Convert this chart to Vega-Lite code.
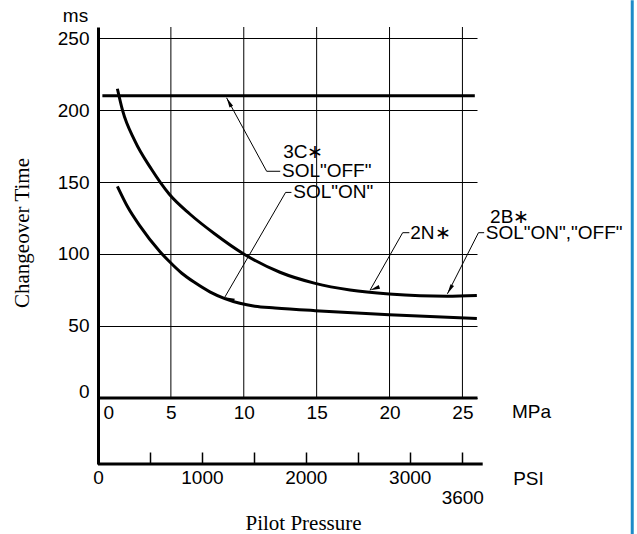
{
  "$schema": "https://vega.github.io/schema/vega-lite/v6.json",
  "width": 379,
  "height": 437,
  "autosize": {"type": "none"},
  "padding": {"left": 98, "top": 27, "right": 160, "bottom": 70},
  "background": "white",
  "config": {
    "view": {"stroke": null},
    "font": "Liberation Sans",
    "axis": {
      "labelFont": "Liberation Sans",
      "labelFontSize": 19,
      "labelColor": "black",
      "titleFont": "Liberation Sans",
      "titleFontSize": 19,
      "titleFontWeight": "normal",
      "titleColor": "black",
      "domainColor": "black",
      "tickColor": "black",
      "gridColor": "black",
      "labelOverlap": false
    },
    "title": {"font": "Liberation Serif", "fontSize": 21, "fontWeight": "normal", "color": "black"}
  },
  "title": {"text": "Pilot Pressure", "orient": "bottom", "anchor": "middle", "dx": 16, "offset": -23},
  "datasets": {
    "grid": [{"p": 5}, {"p": 10}, {"p": 15}, {"p": 20}, {"p": 25}],
    "curves": [
      {"s": "3C OFF", "p": 0.3, "t": 210},
      {"s": "3C OFF", "p": 25.85, "t": 210},
      {"s": "2N 2B", "p": 1.33, "t": 214.9},
      {"s": "2N 2B", "p": 1.68, "t": 200},
      {"s": "2N 2B", "p": 2.52, "t": 178.8},
      {"s": "2N 2B", "p": 3.67, "t": 158.9},
      {"s": "2N 2B", "p": 4.88, "t": 141.7},
      {"s": "2N 2B", "p": 6.3, "t": 127.8},
      {"s": "2N 2B", "p": 8.02, "t": 113.9},
      {"s": "2N 2B", "p": 10.0, "t": 100},
      {"s": "2N 2B", "p": 12.48, "t": 87.3},
      {"s": "2N 2B", "p": 14.9, "t": 79.6},
      {"s": "2N 2B", "p": 17.29, "t": 75.0},
      {"s": "2N 2B", "p": 19.97, "t": 72.2},
      {"s": "2N 2B", "p": 22.1, "t": 71.0},
      {"s": "2N 2B", "p": 23.93, "t": 70.7},
      {"s": "2N 2B", "p": 25.99, "t": 71.2},
      {"s": "3C ON", "p": 1.33, "t": 147.0},
      {"s": "3C ON", "p": 2.04, "t": 132.6},
      {"s": "3C ON", "p": 2.86, "t": 119.7},
      {"s": "3C ON", "p": 4.24, "t": 101.7},
      {"s": "3C ON", "p": 4.86, "t": 95.1},
      {"s": "3C ON", "p": 5.75, "t": 86.6},
      {"s": "3C ON", "p": 6.64, "t": 80.1},
      {"s": "3C ON", "p": 7.67, "t": 73.7},
      {"s": "3C ON", "p": 8.7, "t": 69.0},
      {"s": "3C ON", "p": 9.73, "t": 65.7},
      {"s": "3C ON", "p": 10.76, "t": 63.7},
      {"s": "3C ON", "p": 12.14, "t": 62.5},
      {"s": "3C ON", "p": 14.9, "t": 60.6},
      {"s": "3C ON", "p": 19.97, "t": 57.8},
      {"s": "3C ON", "p": 25.99, "t": 55.2}
    ],
    "leaders": [
      {"g": "3C", "k": 0, "p": 12.5, "t": 157.5},
      {"g": "3C", "k": 1, "p": 11.57, "t": 157.5},
      {"g": "3C", "k": 2, "p": 8.82, "t": 208.6},
      {"g": "ON", "k": 0, "p": 13.27, "t": 142.8},
      {"g": "ON", "k": 1, "p": 12.87, "t": 142.8},
      {"g": "ON", "k": 2, "p": 8.7, "t": 70},
      {"g": "2N", "k": 0, "p": 21.36, "t": 114.8},
      {"g": "2N", "k": 1, "p": 20.9, "t": 114.8},
      {"g": "2N", "k": 2, "p": 18.66, "t": 74.8},
      {"g": "2B", "k": 0, "p": 26.49, "t": 114.8},
      {"g": "2B", "k": 1, "p": 26.1, "t": 114.8},
      {"g": "2B", "k": 2, "p": 23.97, "t": 72.3}
    ],
    "tips": [
      {"g": "3C", "p": 8.82, "t": 208.6},
      {"g": "ON", "p": 8.7, "t": 70},
      {"g": "2N", "p": 18.66, "t": 74.8},
      {"g": "2B", "p": 23.97, "t": 72.3}
    ],
    "labels": [
      {"txt": "3C∗", "p": 12.7, "t": 171.2},
      {"txt": "SOL\"OFF\"", "p": 12.62, "t": 157.5},
      {"txt": "SOL\"ON\"", "p": 13.4, "t": 142.8},
      {"txt": "2N∗", "p": 21.42, "t": 114.8},
      {"txt": "2B∗", "p": 26.9, "t": 125.8},
      {"txt": "SOL\"ON\",\"OFF\"", "p": 26.6, "t": 114.6}
    ],
    "border": [{"edge": "page"}],
    "psi": [{"psi0": 0, "psi1": 3833}]
  },
  "layer": [
    {
      "data": {"name": "grid"},
      "mark": {"type": "rule", "color": "black", "strokeWidth": 1},
      "encoding": {
        "x": {"field": "p", "type": "quantitative", "scale": {"domain": [0, 26], "nice": false, "zero": false}, "axis": null},
        "y": {"datum": 0, "type": "quantitative", "scale": {"domain": [-46, 257.8], "nice": false, "zero": false}, "axis": null},
        "y2": {"datum": 257.8}
      }
    },
    {
      "data": {"name": "curves"},
      "mark": {"type": "line", "color": "black", "strokeWidth": 3, "interpolate": "monotone"},
      "encoding": {
        "x": {
          "field": "p", "type": "quantitative",
          "scale": {"domain": [0, 26], "nice": false, "zero": false},
          "axis": {
            "orient": "bottom", "offset": -66.5, "values": [0, 5, 10, 15, 20, 25],
            "grid": false, "ticks": false, "domainWidth": 3,
            "labelFlush": true, "labelFlushOffset": -5,
            "labelPadding": 6,
            "title": "MPa", "titleX": 433, "titleY": 14, "titleAlign": "center", "titleBaseline": "middle"
          }
        },
        "y": {
          "field": "t", "type": "quantitative",
          "scale": {"domain": [-46, 257.8], "nice": false, "zero": false},
          "axis": {
            "orient": "left", "values": [0, 50, 100, 150, 200, 250],
            "grid": true, "gridWidth": 1, "ticks": false, "domainWidth": 3,
            "labelPadding": 9,
            "labelBaseline": {"condition": {"test": "datum.value === 0", "value": "alphabetic"}, "value": "middle"},
            "title": "ms", "titleAngle": 0, "titleX": -23, "titleY": -12, "titleAlign": "center", "titleBaseline": "middle"
          }
        },
        "detail": {"field": "s"}
      }
    },
    {
      "data": {"name": "leaders"},
      "mark": {"type": "line", "color": "black", "strokeWidth": 1},
      "encoding": {
        "x": {"field": "p", "type": "quantitative", "scale": {"domain": [0, 26], "nice": false, "zero": false}, "axis": null},
        "y": {"field": "t", "type": "quantitative", "scale": {"domain": [-46, 257.8], "nice": false, "zero": false}, "axis": null},
        "detail": {"field": "g"},
        "order": {"field": "k", "type": "quantitative"}
      }
    },
    {
      "data": {"name": "tips"},
      "mark": {"type": "point", "shape": "M0,0L0.2,1L-0.2,1Z", "filled": true, "color": "black", "opacity": 1, "size": 400, "strokeWidth": 0},
      "encoding": {
        "x": {"field": "p", "type": "quantitative", "scale": {"domain": [0, 26], "nice": false, "zero": false}, "axis": null},
        "y": {"field": "t", "type": "quantitative", "scale": {"domain": [-46, 257.8], "nice": false, "zero": false}, "axis": null},
        "angle": {"field": "g", "type": "nominal", "scale": {"domain": ["3C", "ON", "2N", "2B"], "range": [331.7, 209.25, 209.5, 207.3]}, "legend": null}
      }
    },
    {
      "data": {"name": "labels"},
      "mark": {"type": "text", "align": "left", "baseline": "middle", "font": "Liberation Sans", "fontSize": 19, "color": "black"},
      "encoding": {
        "x": {"field": "p", "type": "quantitative", "scale": {"domain": [0, 26], "nice": false, "zero": false}, "axis": null},
        "y": {"field": "t", "type": "quantitative", "scale": {"domain": [-46, 257.8], "nice": false, "zero": false}, "axis": null},
        "text": {"field": "txt"}
      }
    },
    {
      "data": {"name": "border"},
      "mark": {"type": "rule", "color": "#1e8bc8", "strokeWidth": 3},
      "encoding": {
        "x": {"datum": 36.65, "type": "quantitative", "scale": {"domain": [0, 26], "nice": false, "zero": false}, "axis": null},
        "y": {"datum": 276.4, "type": "quantitative", "scale": {"domain": [-46, 257.8], "nice": false, "zero": false}, "axis": null},
        "y2": {"datum": -94.9}
      }
    },
    {
      "data": {"name": "psi"},
      "mark": {"type": "rule", "color": "black", "strokeWidth": 3},
      "encoding": {
        "x": {
          "field": "psi0", "type": "quantitative",
          "scale": {"domain": [0, 3000, 3600, 3833], "range": [0, 311.7, 364.3, 384.7], "nice": false, "zero": false},
          "axis": {
            "orient": "bottom", "values": [0, 500, 1000, 1500, 2000, 2500, 3000, 3600],
            "format": "d", "domain": false, "grid": false, "ticks": true, "tickSize": -12, "tickWidth": 1.5,
            "labelFlush": false,
            "labelPadding": {"condition": {"test": "datum.value === 3600", "value": 36}, "value": 16},
            "labelExpr": "datum.value % 1000 === 0 || datum.value === 3600 ? datum.label : ''",
            "title": "PSI", "titleX": 430, "titleY": 14, "titleAlign": "center", "titleBaseline": "middle"
          }
        },
        "x2": {"field": "psi1"},
        "y": {
          "datum": -46, "type": "quantitative",
          "scale": {"domain": [-46, 257.8], "nice": false, "zero": false},
          "axis": {
            "orient": "left", "labels": false, "ticks": false, "domain": false, "grid": false,
            "title": "Changeover Time", "titleFont": "Liberation Serif", "titleFontSize": 21,
            "titleAngle": -90, "titleX": -76, "titleY": 205.5, "titleAlign": "center", "titleBaseline": "middle"
          }
        }
      }
    }
  ],
  "resolve": {"scale": {"x": "independent"}, "axis": {"x": "independent", "y": "independent"}}
}
